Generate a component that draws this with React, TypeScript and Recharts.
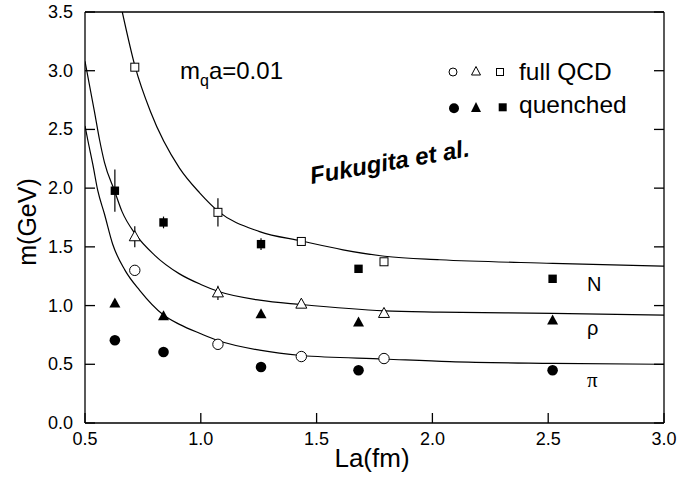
import React from 'react';
import { ComposedChart, Line, Scatter, ErrorBar, XAxis, YAxis } from 'recharts';

const xTicks = [0.5, 1.0, 1.5, 2.0, 2.5, 3.0];
const yTicks = [0, 0.5, 1.0, 1.5, 2.0, 2.5, 3.0, 3.5];

// full QCD (open symbols)
const fullLa = [0.715, 1.074, 1.434, 1.791];
const fullPi = [1.3, 0.67, 0.566, 0.549];
const fullRho = [1.586, 1.108, 1.012, 0.933];
const fullN = [3.03, 1.794, 1.546, 1.373];
const fullRhoErr = [0.09, 0.06, 0, 0];
const fullNErr = [0, 0.12, 0, 0];

// quenched (filled symbols)
const qLa = [0.629, 0.839, 1.26, 1.681, 2.519];
const qPi = [0.705, 0.605, 0.477, 0.449, 0.449];
const qRho = [1.018, 0.91, 0.927, 0.856, 0.873];
const qN = [1.978, 1.708, 1.523, 1.313, 1.228];
const qNErr = [0.18, 0.05, 0.05, 0, 0];

// fit curves
const curveNLa = [0.661, 0.717, 0.783, 0.908, 0.995, 1.077, 1.254, 1.434, 1.614, 1.794, 2.032, 2.52, 3.0];
const curveNm = [3.5, 3.03, 2.65, 2.17, 1.96, 1.8, 1.63, 1.55, 1.475, 1.42, 1.39, 1.36, 1.336];
const curveRhoLa = [0.5, 0.541, 0.563, 0.584, 0.627, 0.66, 0.717, 0.8, 0.908, 1.0, 1.077, 1.254, 1.434, 1.794, 2.032, 2.52, 3.0];
const curveRhoM = [3.08, 2.65, 2.41, 2.22, 1.98, 1.8, 1.61, 1.43, 1.27, 1.18, 1.12, 1.046, 1.009, 0.955, 0.945, 0.933, 0.918];
const curvePiLa = [0.5, 0.512, 0.534, 0.555, 0.584, 0.62, 0.673, 0.736, 0.839, 0.908, 1.0, 1.077, 1.254, 1.434, 1.794, 2.075, 2.52, 3.0];
const curvePiM = [2.53, 2.41, 2.2, 1.98, 1.78, 1.52, 1.3, 1.13, 0.92, 0.84, 0.76, 0.7, 0.62, 0.575, 0.545, 0.522, 0.508, 0.5];

const FONT = '"Liberation Sans", Arial, Helvetica, sans-serif';

const toRows = (xs: number[], ys: number[], errs?: number[]) =>
  xs.map((La, i) => ({ La, m: ys[i], err: errs ? errs[i] : 0 }));

// ticks point into the plot, as in the original
const BottomTick = ({ x, y, payload }: any) => (
  <g>
    <path d={`M${x},${y}V${y - 10}`} stroke="#000" strokeWidth={1.3} fill="none" />
    <text x={x} y={y + 22} textAnchor="middle" fontSize={18} fontFamily={FONT} fill="#000">
      {Number(payload.value).toFixed(1)}
    </text>
  </g>
);
const TopTick = ({ x, y }: any) => (
  <path d={`M${x},${y}V${y + 10}`} stroke="#000" strokeWidth={1.3} fill="none" />
);
const LeftTick = ({ x, y, payload }: any) => (
  <g>
    <path d={`M${x},${y}H${x + 10}`} stroke="#000" strokeWidth={1.3} fill="none" />
    <text x={x - 12} y={y + 6} textAnchor="end" fontSize={18} fontFamily={FONT} fill="#000">
      {Number(payload.value).toFixed(1)}
    </text>
  </g>
);
const RightTick = ({ x, y }: any) => (
  <path d={`M${x},${y}H${x - 10}`} stroke="#000" strokeWidth={1.3} fill="none" />
);

const openCircle = (p: any) => <circle cx={p.cx} cy={p.cy} r={5.2} fill="#fff" stroke="#000" strokeWidth={1} />;
const fullCircle = (p: any) => <circle cx={p.cx} cy={p.cy} r={5.3} fill="#000" />;
const openTri = (p: any) => (
  <polygon points={`${p.cx},${p.cy - 6} ${p.cx - 5.5},${p.cy + 4} ${p.cx + 5.5},${p.cy + 4}`} fill="#fff" stroke="#000" strokeWidth={1} />
);
const fullTri = (p: any) => (
  <polygon points={`${p.cx},${p.cy - 6} ${p.cx - 5.5},${p.cy + 4} ${p.cx + 5.5},${p.cy + 4}`} fill="#000" />
);
const openSq = (p: any) => <rect x={p.cx - 4} y={p.cy - 4} width={8} height={8} fill="#fff" stroke="#000" strokeWidth={1} />;
const fullSq = (p: any) => <rect x={p.cx - 4.2} y={p.cy - 4.2} width={8.4} height={8.4} fill="#000" />;

export default function App() {
  const curves = [
    toRows(curveNLa, curveNm),
    toRows(curveRhoLa, curveRhoM),
    toRows(curvePiLa, curvePiM),
  ];
  return (
    <div style={{ position: 'absolute', left: 0, top: 0, width: 677, height: 480, background: '#fff' }}>
      <ComposedChart width={677} height={480} margin={{ top: 0, right: 0, bottom: 0, left: 0 }}>
        <XAxis
          dataKey="La"
          type="number"
          domain={[0.5, 3]}
          ticks={xTicks}
          interval={0}
          height={57}
          tickSize={0}
          tickMargin={0}
          tickLine={false}
          axisLine={{ stroke: '#000', strokeWidth: 1.3 }}
          tick={(p: any) => <BottomTick {...p} />}
          allowDataOverflow
        />
        <XAxis
          xAxisId="top"
          orientation="top"
          type="number"
          domain={[0.5, 3]}
          ticks={xTicks}
          interval={0}
          height={12}
          tickSize={0}
          tickMargin={0}
          tickLine={false}
          axisLine={{ stroke: '#000', strokeWidth: 1.3 }}
          tick={(p: any) => <TopTick {...p} />}
          allowDataOverflow
        />
        <YAxis
          dataKey="m"
          type="number"
          domain={[0, 3.5]}
          ticks={yTicks}
          interval={0}
          width={85}
          tickSize={0}
          tickMargin={0}
          tickLine={false}
          axisLine={{ stroke: '#000', strokeWidth: 1.3 }}
          tick={(p: any) => <LeftTick {...p} />}
          allowDataOverflow
        />
        <YAxis
          yAxisId="right"
          orientation="right"
          type="number"
          domain={[0, 3.5]}
          ticks={yTicks}
          interval={0}
          width={13}
          tickSize={0}
          tickMargin={0}
          tickLine={false}
          axisLine={{ stroke: '#000', strokeWidth: 1.3 }}
          tick={(p: any) => <RightTick {...p} />}
          allowDataOverflow
        />

        {curves.map((rows, i) => (
          <Line
            key={i}
            data={rows}
            dataKey="m"
            type="monotone"
            stroke="#000"
            strokeWidth={1.2}
            dot={false}
            isAnimationActive={false}
          />
        ))}

        <Scatter data={toRows(qLa, qN, qNErr)} dataKey="m" shape={fullSq} isAnimationActive={false}>
          <ErrorBar dataKey="err" direction="y" width={0} stroke="#000" strokeWidth={1.2} />
        </Scatter>
        <Scatter data={toRows(qLa, qRho)} dataKey="m" shape={fullTri} isAnimationActive={false} />
        <Scatter data={toRows(qLa, qPi)} dataKey="m" shape={fullCircle} isAnimationActive={false} />
        <Scatter data={toRows(fullLa, fullN, fullNErr)} dataKey="m" shape={openSq} isAnimationActive={false}>
          <ErrorBar dataKey="err" direction="y" width={0} stroke="#000" strokeWidth={1.2} />
        </Scatter>
        <Scatter data={toRows(fullLa, fullRho, fullRhoErr)} dataKey="m" shape={openTri} isAnimationActive={false}>
          <ErrorBar dataKey="err" direction="y" width={0} stroke="#000" strokeWidth={1.2} />
        </Scatter>
        <Scatter data={toRows(fullLa, fullPi)} dataKey="m" shape={openCircle} isAnimationActive={false} />
      </ComposedChart>

      <svg
        width={677}
        height={480}
        style={{ position: 'absolute', left: 0, top: 0, pointerEvents: 'none' }}
        fontFamily={FONT}
      >
        <text x={180} y={79} fontSize={24} fill="#000">
          m<tspan fontSize={16} dy={7}>q</tspan>
          <tspan dy={-7}>a=0.01</tspan>
        </text>

        <circle cx={453} cy={72} r={4} fill="#fff" stroke="#000" strokeWidth={1} />
        <polygon points="476,66.5 471.5,75 480.5,75" fill="#fff" stroke="#000" strokeWidth={1} />
        <rect x={496.5} y={68.5} width={7} height={7} fill="#fff" stroke="#000" strokeWidth={1} />
        <text x={519} y={79.5} fontSize={24.5} fill="#000">full QCD</text>

        <circle cx={454} cy={108.3} r={5} fill="#000" />
        <polygon points="476,102 471,112 481,112" fill="#000" />
        <rect x={498.7} y={103.3} width={8} height={8} fill="#000" />
        <text x={519} y={112.5} fontSize={24.5} fill="#000">quenched</text>

        <text
          x={391}
          y={170}
          textAnchor="middle"
          fontSize={24}
          fontWeight="bold"
          fontStyle="italic"
          fill="#000"
          transform="rotate(-10 391 170)"
        >
          Fukugita et al.
        </text>

        <text x={587} y={291} fontSize={20} fill="#000">N</text>
        <text x={587} y={335} fontSize={20} fill="#000">ρ</text>
        <text x={587} y={387} fontSize={21} fontFamily='"Liberation Serif", "Times New Roman", serif' fill="#000">π</text>

        <text x={372} y={467} textAnchor="middle" fontSize={26} fill="#000">La(fm)</text>
        <text x={36} y={222} textAnchor="middle" fontSize={25} fill="#000" transform="rotate(-90 36 222)">
          m(GeV)
        </text>
      </svg>
    </div>
  );
}
